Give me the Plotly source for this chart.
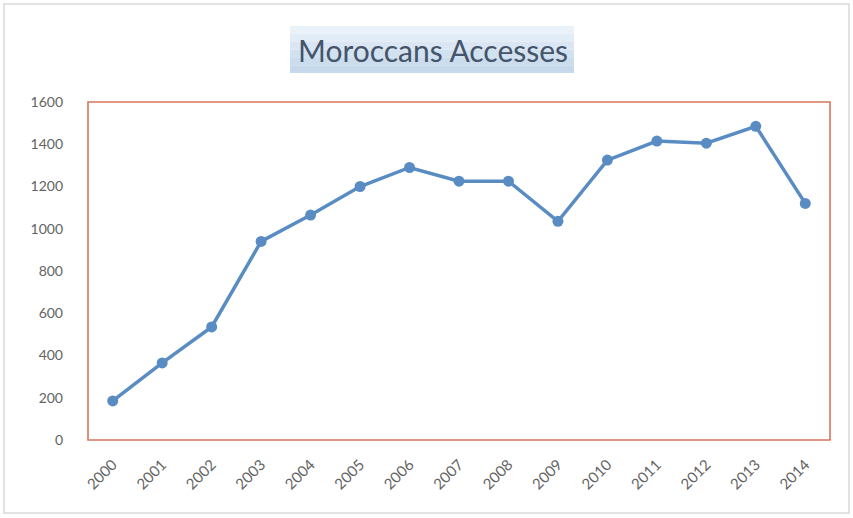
import plotly.graph_objects as go

years = ["2000", "2001", "2002", "2003", "2004", "2005", "2006", "2007",
         "2008", "2009", "2010", "2011", "2012", "2013", "2014"]
accesses = [185, 365, 535, 940, 1065, 1200, 1290, 1225, 1225, 1035,
            1325, 1415, 1405, 1485, 1120]
y_ticks = [0, 200, 400, 600, 800, 1000, 1200, 1400, 1600]
title_text = "Moroccans Accesses"

W, H = 853, 518
L, R, T, B = 88, 830, 102, 440
pw, ph = R - L, B - T


def px_x(x):
    return (x - L) / pw


def px_y(y):
    return (B - y) / ph


fig = go.Figure()
fig.add_trace(go.Scatter(
    x=years, y=accesses, mode="lines+markers",
    line=dict(color="#5A8CC4", width=3.5),
    marker=dict(color="#5A8CC4", size=11),
    showlegend=False, cliponaxis=False,
))

shapes = []
# outer chart border
shapes.append(dict(type="rect", xref="paper", yref="paper",
                   x0=px_x(4), x1=px_x(849), y0=px_y(513), y1=px_y(4),
                   line=dict(color="#D9D9D9", width=1.5), layer="below"))
# title background (soft gradient via stacked bands)
tx0, tx1, ty0, ty1 = 290, 574, 26, 73
bands = ["#EAF1F9", "#E2ECF6", "#DAE6F3", "#D2E1F0", "#CBDCED", "#C6D8EB"]
n = len(bands)
for i, c in enumerate(bands):
    ya = ty0 + (ty1 - ty0) * i / n
    yb = ty0 + (ty1 - ty0) * (i + 1) / n
    shapes.append(dict(type="rect", xref="paper", yref="paper",
                       x0=px_x(tx0), x1=px_x(tx1), y0=px_y(yb), y1=px_y(ya),
                       line=dict(width=0), fillcolor=c, layer="below"))
# plot area border
shapes.append(dict(type="rect", xref="paper", yref="paper",
                   x0=0, x1=1, y0=0, y1=1,
                   line=dict(color="#D9745C", width=1.6), layer="below"))

fig.update_layout(
    width=W, height=H,
    margin=dict(l=L, r=W - R, t=T, b=H - B, pad=0),
    paper_bgcolor="white", plot_bgcolor="white",
    font=dict(family="Lato, Open Sans, sans-serif", color="#636363", size=14),
    shapes=shapes,
    annotations=[dict(text=title_text, xref="paper", yref="paper",
                      x=px_x(433), y=px_y(50), xanchor="center", yanchor="middle",
                      showarrow=False,
                      font=dict(size=30, color="#44546A",
                                family="Lato, Open Sans, sans-serif"))],
    xaxis=dict(type="category", range=[-0.5, 14.5], showgrid=False,
               zeroline=False, showline=False, ticks="", tickangle=-45,
               ticklabelstandoff=12,
               tickfont=dict(size=15, color="#636363")),
    yaxis=dict(range=[0, 1600], tickvals=y_ticks, showgrid=False,
               zeroline=False, showline=False, ticks="",
               ticklabelstandoff=24,
               tickfont=dict(size=14, color="#636363")),
)

fig.write_html("out.html", config={"displayModeBar": False},
               post_script="document.body.style.margin='0';")
